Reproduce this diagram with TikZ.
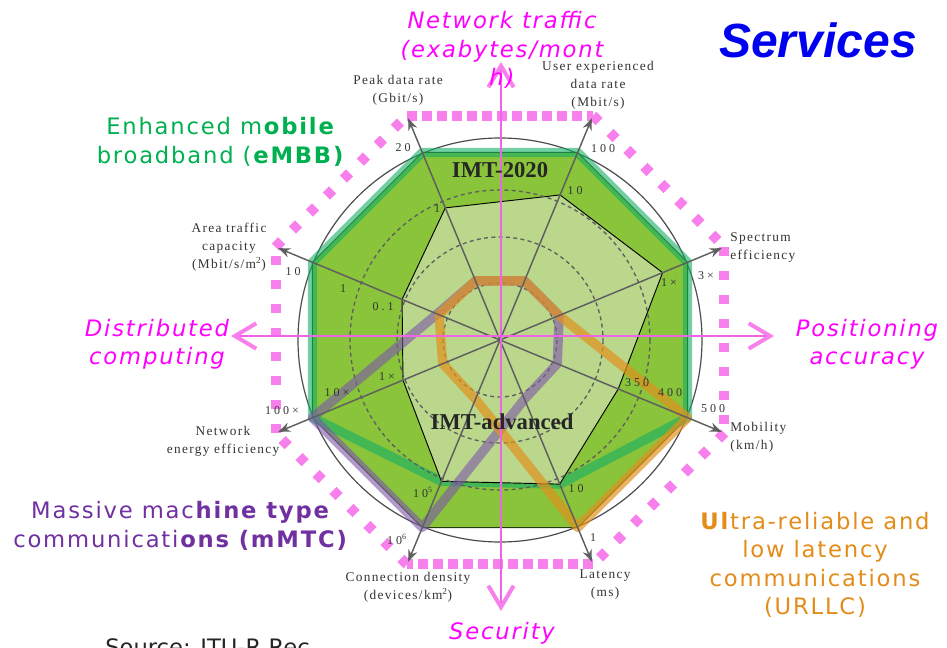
\documentclass[tikz,border=0pt]{standalone}
\usepackage{fontspec}
\usetikzlibrary{arrows.meta}
\newfontfamily\slidefont[LetterSpace=8,ItalicFont={DejaVu Sans Oblique},BoldFont={DejaVu Sans Bold}]{DejaVu Sans}
\newfontfamily\plainsans{DejaVu Sans}
\newfontfamily\titlefont{Liberation Sans}
\newfontfamily\chartfont[LetterSpace=10]{Liberation Serif}
\newfontfamily\tickfont[LetterSpace=25]{Liberation Serif}
\newfontfamily\imtfont{Liberation Serif}

\definecolor{imtgreen}{RGB}{137,196,58}
\definecolor{imtlight}{RGB}{186,215,140}
\definecolor{embbgreen}{RGB}{0,176,80}
\definecolor{embbband}{RGB}{20,175,100}
\definecolor{mmtcpurple}{RGB}{112,48,160}
\definecolor{mmtcband}{RGB}{125,85,170}
\definecolor{urllcorange}{RGB}{228,140,25}
\definecolor{urllcband}{RGB}{225,145,30}
\definecolor{pinkdot}{RGB}{248,128,236}
\definecolor{crosspink}{RGB}{238,100,228}
\definecolor{magentatext}{RGB}{255,0,255}
\definecolor{servblue}{RGB}{0,0,240}
\definecolor{axisgray}{RGB}{95,95,95}

\tikzset{
  dotsflat/.style={pinkdot, line width=7.5pt, dash pattern=on 7.5pt off 3.75pt},
  dotsside/.style={pinkdot, line width=7.5pt, dash pattern=on 6.5pt off 11.5pt},
  axisarrow/.style={axisgray, line width=1.1pt, -{Stealth[length=9pt,width=7pt]}},
  crossline/.style={crosspink, line width=2.2pt,
    >={Straight Barb[length=16pt,width=19pt,line width=3pt,color=pinkdot]}, <->},
  band/.style={line width=7pt, line join=round, opacity=0.6},
  dashcircle/.style={axisgray, line width=1pt, dash pattern=on 3pt off 2.5pt},
  ticklabel/.style={inner sep=0pt, text=black!80, font=\tickfont\fontsize{9}{11}\selectfont},
  axislabel/.style={inner sep=0pt, align=center, text=black!80, font=\chartfont\fontsize{10}{13.5}\selectfont},
  slidetext/.style={inner sep=0pt, align=center, font=\slidefont\fontsize{17}{21.3}\selectfont},
  magtext/.style={slidetext, text=magentatext, font=\slidefont\itshape\fontsize{17}{21.3}\selectfont},
  imtlabel/.style={inner sep=0pt, text=black!85, font=\imtfont\bfseries\fontsize{17}{20}\selectfont},
}

\begin{document}
\begin{tikzpicture}[x=0.75pt,y=0.75pt,yscale=-1,xscale=1]
\useasboundingbox (0,0) rectangle (947,648);

\begin{scope}[shift={(500,340)}]
% axis end points
\coordinate (O) at (0,0);
\coordinate (tPeak) at (-112.5:240);
\coordinate (tUser) at (-67.5:240);
\coordinate (tSpec) at (-22.5:240);
\coordinate (tMob) at (22.5:240);
\coordinate (tLat) at (67.5:240);
\coordinate (tConn) at (112.5:240);
\coordinate (tEnergy) at (157.5:240);
\coordinate (tArea) at (202.5:240);
% corners of the dotted frame
\coordinate (dPeak) at (-112.5:243);
\coordinate (dUser) at (-67.5:243);
\coordinate (dSpec) at (-22.5:243);
\coordinate (dMob) at (22.5:243);
\coordinate (dLat) at (67.5:243);
\coordinate (dConn) at (112.5:243);
\coordinate (dEnergy) at (157.5:243);
\coordinate (dArea) at (202.5:243);

%Shape: Circle
\draw [black!70, line width=0.9pt] (O) circle (202);
%Shape: Polygon IMT-2020
\draw [fill=imtgreen, draw=black!70!imtgreen, line width=0.7pt] (-112.5:203) -- (-67.5:203) -- (-22.5:203) -- (22.5:203) -- (67.5:203) -- (112.5:203) -- (157.5:203) -- (202.5:203) -- cycle;
%Shape: Polygon eMBB
\draw [band, embbband] (-112.5:203) -- (-67.5:203) -- (-22.5:203) -- (22.5:203) -- (67.5:156) -- (112.5:153) -- (157.5:203) -- (202.5:203) -- cycle;
%Shape: Polygon IMT-advanced
\draw [fill=imtlight, draw=black, line width=0.7pt] (-112.5:143) -- (-67.5:157) -- (-22.5:176) -- (22.5:128) -- (67.5:156) -- (112.5:153) -- (157.5:105) -- (202.5:106) -- cycle;
%Shape: Circle dashed
\draw [dashcircle] (O) circle (57);
\draw [dashcircle] (O) circle (103);
\draw [dashcircle] (O) circle (150);
%Shape: Polygon mMTC
\draw [band, mmtcband] (-112.5:64) -- (-67.5:64) -- (-22.5:64) -- (22.5:62) -- (67.5:64) -- (112.5:203) -- (157.5:203) -- (202.5:68) -- cycle;
%Shape: Polygon URLLC
\draw [band, urllcband, opacity=0.7] (-112.5:64) -- (-67.5:64) -- (-22.5:64) -- (22.5:203) -- (67.5:203) -- (112.5:64) -- (157.5:62) -- (202.5:66) -- cycle;

%Shape: dotted frame
\draw [dotsflat] (dPeak) -- (dUser);
\draw [dotsside] (dUser) -- (dSpec);
\draw [dotsside] (dSpec) -- (dMob);
\draw [dotsside] (dMob) -- (dLat);
\draw [dotsflat] (dLat) -- (dConn);
\draw [dotsside] (dConn) -- (dEnergy);
\draw [dotsside] (dEnergy) -- (dArea);
\draw [dotsside] (dArea) -- (dPeak);

%Straight Lines: axes
\draw [axisarrow] (O) -- (tPeak);
\draw [axisarrow] (O) -- (tUser);
\draw [axisarrow] (O) -- (tSpec);
\draw [axisarrow] (O) -- (tMob);
\draw [axisarrow] (O) -- (tLat);
\draw [axisarrow] (O) -- (tConn);
\draw [axisarrow] (O) -- (tEnergy);
\draw [axisarrow] (O) -- (tArea);
\end{scope}

%Straight Lines: pink cross
\coordinate (nTop) at (501,62);
\coordinate (nBot) at (501,611);
\coordinate (nLeft) at (231,336);
\coordinate (nRight) at (774,336);
\draw [crossline] (nTop) -- (nBot);
\draw [crossline] (nLeft) -- (nRight);

% Text Node
\node [imtlabel] (imt2020) at (500,170) {IMT-2020};
% Text Node
\node [imtlabel] (imtadv) at (502,422) {IMT-advanced};

% Text Node
\node [axislabel] (lblPeak) at (398,90) {Peak data rate\\(Gbit/s)};
% Text Node
\node [axislabel] (lblUser) at (598,85) {User experienced\\data rate\\(Mbit/s)};
% Text Node
\node [axislabel, anchor=west, align=left] (lblSpec) at (730,248) {Spectrum\\efficiency};
% Text Node
\node [axislabel, anchor=west, align=left] (lblMob) at (730,437) {Mobility\\(km/h)};
% Text Node
\node [axislabel] (lblLat) at (605,585) {Latency\\(ms)};
% Text Node
\node [axislabel] (lblConn) at (408,587) {Connection density\\(devices/km\textsuperscript{2})};
% Text Node
\node [axislabel] (lblEnergy) at (223,441) {Network\\energy efficiency};
% Text Node
\node [axislabel] (lblArea) at (229,247) {Area traffic\\capacity\\(Mbit/s/m\textsuperscript{2})};

% Text Node
\node [ticklabel] (tkPeakA) at (403,148) {20};
\node [ticklabel] (tkPeakB) at (437,209) {1};
\node [ticklabel] (tkUserA) at (603,149) {100};
\node [ticklabel] (tkUserB) at (575,191) {10};
\node [ticklabel] (tkSpecA) at (706,276) {3×};
\node [ticklabel] (tkSpecB) at (669,283) {1×};
\node [ticklabel] (tkMobA) at (637,383) {350};
\node [ticklabel] (tkMobB) at (670,393) {400};
\node [ticklabel] (tkMobC) at (713,409) {500};
\node [ticklabel] (tkLatA) at (576,489) {10};
\node [ticklabel] (tkLatB) at (593,538) {1};
\node [ticklabel] (tkConnA) at (423,492) {10\textsuperscript{5}};
\node [ticklabel] (tkConnB) at (397,539) {10\textsuperscript{6}};
\node [ticklabel] (tkEnergyA) at (282,411) {100×};
\node [ticklabel] (tkEnergyB) at (337,393) {10×};
\node [ticklabel] (tkEnergyC) at (387,377) {1×};
\node [ticklabel] (tkAreaA) at (293,272) {10};
\node [ticklabel] (tkAreaB) at (343,289) {1};
\node [ticklabel] (tkAreaC) at (383,307) {0.1};

% Text Node
\node [font=\titlefont\bfseries\itshape\fontsize{36}{40}\selectfont, text=servblue, inner sep=0pt] (services) at (818,40) {Services};
% Text Node
\node [magtext] (traffic) at (502,50) {Network traffic\\(exabytes/mont\\h)};
% Text Node
\node [magtext] (distrib) at (157,344) {Distributed\\computing};
% Text Node
\node [magtext] (position) at (867,344) {Positioning\\accuracy};
% Text Node
\node [magtext] (security) at (502,633) {Security};
% Text Node
\node [slidetext, text=embbgreen] (embb) at (221,142) {Enhanced m\textbf{obile}\\broadband (\textbf{eMBB)}};
% Text Node
\node [slidetext, text=mmtcpurple] (mmtc) at (181,526) {Massive mac\textbf{hine type}\\communicati\textbf{ons (mMTC)}};
% Text Node
\node [slidetext, text=urllcorange] (urllc) at (815,565) {\textbf{Ul}tra-reliable and\\low latency\\communications\\(URLLC)};
% Text Node
\node [anchor=base west, inner sep=0pt, text=black!85, font=\plainsans\fontsize{17}{20}\selectfont] (source) at (105,656) {Source: ITU-R Rec};

\end{tikzpicture}
\end{document}
